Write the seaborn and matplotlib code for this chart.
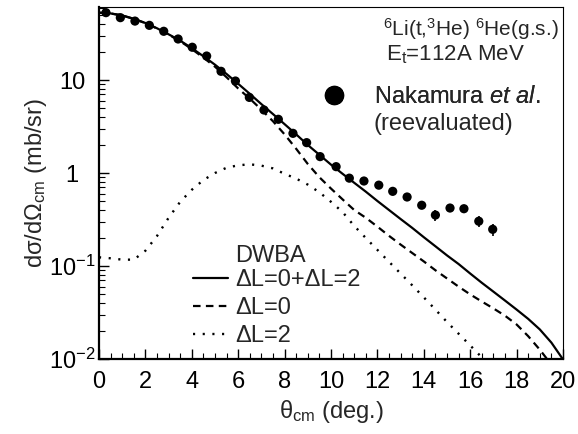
import numpy as np
import pandas as pd
import matplotlib
matplotlib.use("Agg")
import matplotlib.pyplot as plt
from matplotlib.lines import Line2D
from matplotlib.ticker import FixedLocator, FixedFormatter, LogLocator, NullFormatter, MultipleLocator
import seaborn as sns

# Measured cross sections (Nakamura et al., reevaluated)
theta_exp = [0.30, 0.92, 1.55, 2.17, 2.79, 3.41, 4.02, 4.64, 5.26, 5.88,
             6.48, 7.11, 7.73, 8.36, 8.95, 9.53, 10.22, 10.79, 11.42, 12.06,
             12.66, 13.28, 13.91, 14.50, 15.13, 15.73, 16.37, 16.97]
xs_exp = [53.0, 46.8, 43.0, 38.7, 33.4, 27.6, 22.5, 18.1, 12.4, 9.75,
          6.5, 4.76, 3.78, 2.67, 2.12, 1.50, 1.17, 0.88, 0.82, 0.74,
          0.635, 0.552, 0.45, 0.353, 0.42, 0.413, 0.303, 0.248]
rel_err = [0.02] * 22 + [0.05, 0.13, 0.06, 0.06, 0.13, 0.15]

# DWBA calculations
theta_calc = [0.0, 0.5, 1.0, 1.5, 2.0, 2.5, 3.0, 3.5, 4.0, 4.5,
              5.0, 5.5, 6.0, 6.5, 7.0, 7.5, 8.0, 8.5, 9.0, 9.5,
              10.0, 10.5, 11.0, 11.5, 12.0, 12.5, 13.0, 13.5, 14.0, 14.5,
              15.0, 15.5, 16.0, 16.5, 17.0, 17.5, 18.0, 18.5, 19.0, 19.5, 20.0]
xs_total = [53.0, 52.0, 49.5, 45.5, 41.0, 36.0, 31.0, 26.5, 22.0, 18.0,
            14.6, 11.6, 9.1, 7.1, 5.5, 4.3, 3.35, 2.6, 2.0, 1.57,
            1.23, 0.98, 0.785, 0.63, 0.50, 0.40, 0.32, 0.257, 0.204, 0.163,
            0.13, 0.105, 0.083, 0.066, 0.053, 0.0425, 0.034, 0.027, 0.0208, 0.0150, 0.0099]
xs_dl0 = [52.9, 51.9, 49.4, 45.4, 40.9, 35.8, 30.7, 26.1, 21.5, 17.4,
          13.9, 10.7, 8.1, 6.3, 4.8, 3.6, 2.6, 1.82, 1.25, 0.90,
          0.68, 0.52, 0.40, 0.33, 0.265, 0.211, 0.17, 0.138, 0.112, 0.090,
          0.0735, 0.060, 0.0495, 0.0415, 0.0350, 0.0292, 0.0235, 0.0176, 0.0126, 0.0087, 0.0057]
xs_dl2 = [0.124, 0.121, 0.117, 0.117, 0.146, 0.21, 0.33, 0.49, 0.66, 0.84,
          1.0, 1.14, 1.21, 1.24, 1.2, 1.12, 0.98, 0.87, 0.75, 0.62,
          0.49, 0.38, 0.27, 0.2, 0.149, 0.111, 0.083, 0.062, 0.046, 0.034,
          0.025, 0.0187, 0.014, 0.0104, 0.0078, 0.0058, 0.0043, 0.0032, 0.0024, 0.0018, 0.0013]

ytick_vals = [0.01, 0.1, 1, 10]
ytick_labels = ["10$^{-2}$", "10$^{-1}$", "1", "10"]
xtick_vals = [0, 2, 4, 6, 8, 10, 12, 14, 16, 18, 20]

FS = 17

sns.set_style("ticks")
plt.rcParams["font.family"] = ["Liberation Sans", "DejaVu Sans"]
plt.rcParams["mathtext.fontset"] = "custom"
plt.rcParams["mathtext.rm"] = "Liberation Sans"
plt.rcParams["mathtext.it"] = "Liberation Sans:italic"
plt.rcParams["mathtext.bf"] = "Liberation Sans:bold"

calc = pd.DataFrame({"theta": theta_calc, "total": xs_total, "dl0": xs_dl0, "dl2": xs_dl2})
exp = pd.DataFrame({"theta": theta_exp, "xs": xs_exp})
exp["err"] = exp["xs"] * np.array(rel_err)

fig = plt.figure(figsize=(5.78, 4.34), dpi=100)
ax = fig.add_axes([99 / 578, 1 - 359 / 434, (563 - 99) / 578, (359 - 7) / 434])

sns.lineplot(data=calc, x="theta", y="total", ax=ax, color="black", lw=1.6,
             linestyle="-", label="ΔL=0+ΔL=2")
sns.lineplot(data=calc, x="theta", y="dl0", ax=ax, color="black", lw=1.6,
             linestyle=(0, (3.4, 2.4)), label="ΔL=0")
sns.lineplot(data=calc, x="theta", y="dl2", ax=ax, color="black", lw=1.7,
             linestyle=(0, (0.9, 3.2)), label="ΔL=2")

ax.errorbar(exp["theta"], exp["xs"], yerr=exp["err"], fmt="none",
            ecolor="black", elinewidth=1.2, capsize=0)
sns.scatterplot(data=exp, x="theta", y="xs", ax=ax, color="black", s=44,
                edgecolor="none", zorder=5, legend=False)

ax.set_yscale("log")
ax.set_xlim(0, 20)
ax.set_ylim(0.01, 10 ** (1 + 73 / 93))

ax.yaxis.set_major_locator(FixedLocator(ytick_vals))
ax.yaxis.set_major_formatter(FixedFormatter(ytick_labels))
ax.yaxis.set_minor_locator(LogLocator(base=10, subs=np.arange(2, 10)))
ax.yaxis.set_minor_formatter(NullFormatter())
ax.xaxis.set_major_locator(FixedLocator(xtick_vals))
ax.xaxis.set_minor_locator(MultipleLocator(0.5))

ax.tick_params(which="both", direction="in", top=False, right=False,
               labelsize=FS, colors="black")
ax.tick_params(which="major", length=7, width=1.0)
ax.tick_params(which="minor", length=4, width=0.8)
ax.tick_params(axis="x", which="major", pad=9)
ax.tick_params(axis="y", which="major", pad=19.5)
plt.setp(ax.get_yticklabels(), ha="center")

for side in ["left", "bottom"]:
    ax.spines[side].set_linewidth(1.6)
for side in ["top", "right"]:
    ax.spines[side].set_linewidth(0.8)
for s in ax.spines.values():
    s.set_color("black")

ax.set_xlabel("θ$_\\mathregular{cm}$ (deg.)", fontsize=FS, labelpad=3)
ax.set_ylabel("dσ/dΩ$_\\mathregular{cm}$ (mb/sr)", fontsize=FS)
ax.yaxis.set_label_coords(-0.108, 0.5)

# DWBA legend
leg = ax.legend(loc="upper left", bbox_to_anchor=(0.2026, 0.256), frameon=False,
                fontsize=FS, handlelength=1.5, handletextpad=0.27,
                labelspacing=0.26, borderaxespad=0, borderpad=0)
ax.add_artist(leg)
ax.text(0.293, 0.293, "DWBA", transform=ax.transAxes, fontsize=FS,
        ha="left", va="center")

# Reaction label
ax.text(0.991, 0.918, "$^{6}$Li(t,$^{3}$He) $^{6}$He(g.s.)", transform=ax.transAxes,
        fontsize=15, ha="right", va="baseline")
ax.text(0.619, 0.849, "E$_\\mathregular{t}$=112A MeV", transform=ax.transAxes,
        fontsize=16, ha="left", va="baseline")

# Experimental data key
exp_handle = Line2D([], [], marker="o", color="black", linestyle="none", markersize=13)
leg2 = ax.legend([exp_handle], ["Nakamura $\\mathit{et\\ al}$."], loc="center left",
                 bbox_to_anchor=(0.455, 0.744), frameon=False, fontsize=FS,
                 handletextpad=1.1, borderaxespad=0, borderpad=0.4, handlelength=1.2)
ax.add_artist(leg2)
ax.text(0.592, 0.668, "(reevaluated)", transform=ax.transAxes, fontsize=FS,
        ha="left", va="center")

fig.savefig("out.png", dpi=100)
